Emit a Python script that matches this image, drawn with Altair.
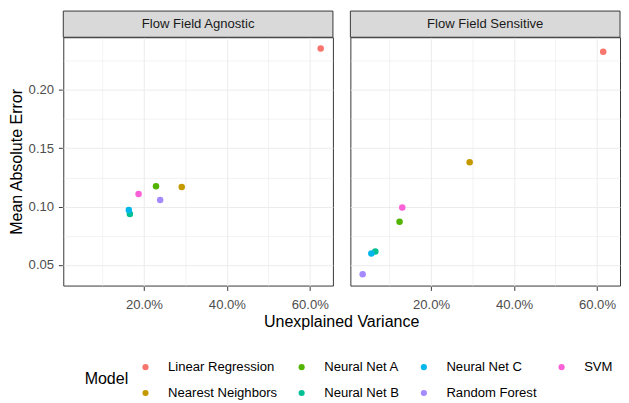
import altair as alt
import pandas as pd

# ---- data ----
models = ["Linear Regression", "Nearest Neighbors", "Neural Net A", "Neural Net B",
          "Neural Net C", "Random Forest", "SVM"]
agnostic_var = [0.626, 0.291, 0.229, 0.166, 0.1635, 0.239, 0.187]
agnostic_mae = [0.2355, 0.1169, 0.1175, 0.0937, 0.0970, 0.1057, 0.1109]
sensitive_var = [0.615, 0.293, 0.124, 0.0656, 0.056, 0.035, 0.1305]
sensitive_mae = [0.2328, 0.1380, 0.0871, 0.0615, 0.0598, 0.0420, 0.0992]
panel_names = ["Flow Field Agnostic", "Flow Field Sensitive"]

legend_order = ["Linear Regression", "Neural Net A", "Neural Net C", "SVM",
                "Nearest Neighbors", "Neural Net B", "Random Forest"]
legend_colors = ["#F8766D", "#53B400", "#00B6EB", "#FB61D7",
                 "#C49A00", "#00C094", "#A58AFF"]

x_ticks = [0.1, 0.2, 0.3, 0.4, 0.5, 0.6]
y_ticks = [0.05, 0.075, 0.1, 0.125, 0.15, 0.175, 0.2, 0.225]

rows = []
for p, xs, ys in [(panel_names[0], agnostic_var, agnostic_mae),
                  (panel_names[1], sensitive_var, sensitive_mae)]:
    for m, xv, yv in zip(models, xs, ys):
        rows.append({"panel": p, "model": m, "variance": xv, "mae": yv})
df = pd.DataFrame(rows)

W = 278
H = 256
FONT = "Liberation Sans"
SMALL = 13.5
BIG = 16.5

x_major = "round(datum.value*100) % 20 == 0"
y_major = "round(datum.value*1000) % 50 == 0"

x_axis = alt.Axis(
    values=x_ticks,
    labelExpr=f"{x_major} ? format(datum.value, '.1%') : ''",
    grid=True, gridColor="#EBEBEB",
    gridWidth={"condition": {"test": x_major, "value": 1.0}, "value": 0.6},
    tickOpacity={"condition": {"test": x_major, "value": 1}, "value": 0},
    domain=False, tickColor="#333333", tickSize=4, tickWidth=1,
    labelPadding=8, labelFontSize=SMALL, labelColor="#4D4D4D", labelFont=FONT,
    labelOverlap=False,
)
y_axis = alt.Axis(
    values=y_ticks,
    labelExpr=f"{y_major} ? format(datum.value, '.2f') : ''",
    grid=True, gridColor="#EBEBEB",
    gridWidth={"condition": {"test": y_major, "value": 1.0}, "value": 0.6},
    tickOpacity={"condition": {"test": y_major, "value": 1}, "value": 0},
    domain=False, tickColor="#333333", tickSize=4, tickWidth=1,
    labelPadding=5, labelFontSize=SMALL, labelColor="#4D4D4D", labelFont=FONT,
    labelOverlap=False,
    titleFont=FONT, titleFontSize=BIG, titleFontWeight="normal",
    titleColor="#000000", titlePadding=4,
)

points = alt.Chart().mark_circle(size=45, opacity=1).encode(
    x=alt.X("variance:Q", title=None,
            scale=alt.Scale(domain=[0.00545, 0.65555], nice=False, zero=False),
            axis=x_axis),
    y=alt.Y("mae:Q", title="Mean Absolute Error",
            scale=alt.Scale(domain=[0.0323, 0.2452], nice=False, zero=False),
            axis=y_axis),
    color=alt.Color("model:N", title="Model",
                    scale=alt.Scale(domain=legend_order, range=legend_colors),
                    legend=alt.Legend(
                        orient="none", legendX=22, legendY=333,
                        direction="horizontal", columns=4,
                        titleOrient="left", titleAnchor="middle", titleBaseline="middle",
                        titleFont=FONT, titleFontSize=BIG, titleFontWeight="normal",
                        titleColor="#000000", titlePadding=11,
                        labelFont=FONT, labelFontSize=SMALL, labelColor="#000000",
                        symbolType="circle", symbolSize=40, symbolStrokeWidth=0,
                        symbolOpacity=1,
                        labelOffset=16.5, columnPadding=18, rowPadding=12,
                    )),
)

strip_rect = alt.Chart().transform_filter(
    alt.datum.model == "Linear Regression"
).mark_rect(fill="#D9D9D9", stroke="#333333", strokeWidth=1).encode(
    x=alt.value(0), x2=alt.value(W), y=alt.value(-27), y2=alt.value(0)
)
strip_text = alt.Chart().transform_filter(
    alt.datum.model == "Linear Regression"
).mark_text(font=FONT, fontSize=SMALL, color="#1A1A1A", baseline="middle", align="center").encode(
    text="panel:N", x=alt.value(W / 2), y=alt.value(-13.5)
)

layered = alt.layer(strip_rect, strip_text, points, data=df).properties(width=W, height=H)

chart = layered.facet(
    column=alt.Column(
        "panel:N", title="Unexplained Variance",
        header=alt.Header(labels=False, titleOrient="bottom",
                          titleFont=FONT, titleFontSize=BIG, titleFontWeight="normal",
                          titleColor="#000000", titlePadding=-7),
    ),
    spacing=16,
).properties(
    padding={"left": 0, "top": -4, "right": 0, "bottom": 0},
    background="#FFFFFF",
).configure_view(
    stroke="#333333", strokeWidth=1, fill="#FFFFFF"
)

chart.save("out.html", embed_options={"renderer": "svg", "actions": False})
